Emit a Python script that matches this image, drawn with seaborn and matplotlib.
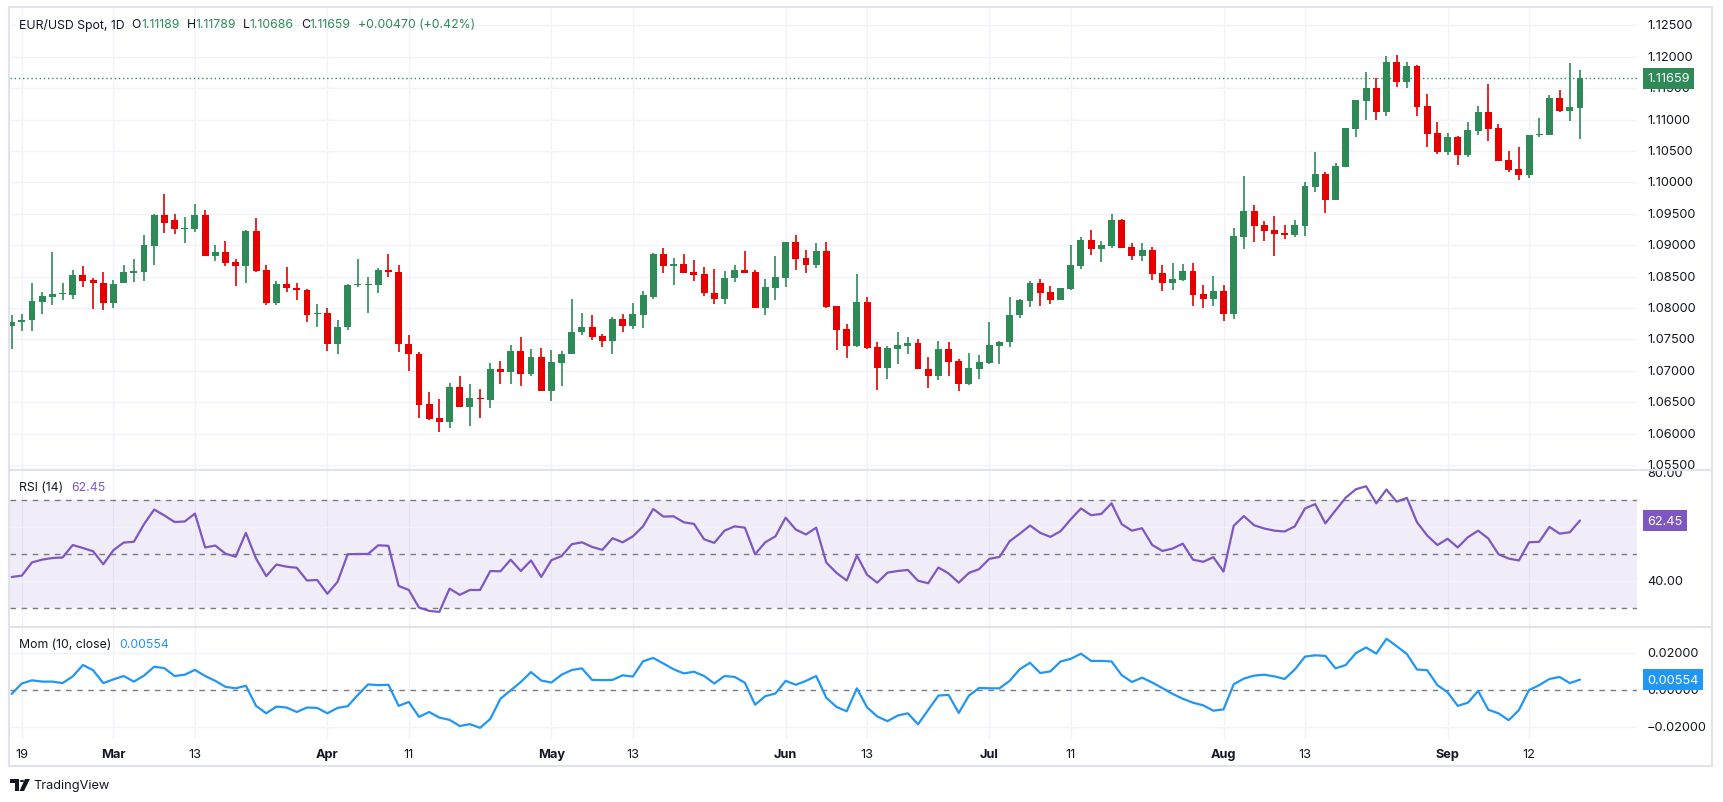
"""
EUR/USD daily chart with RSI(14) and Momentum(10) panes, TradingView look.
Run: python plot.py  ->  out.png
"""

import numpy as np
import pandas as pd
import matplotlib
matplotlib.use("Agg")
import matplotlib.pyplot as plt
import matplotlib.transforms as mtransforms
from matplotlib.patches import Rectangle, Circle, Polygon
from matplotlib.lines import Line2D
import seaborn as sns

# ── Data ──────────────────────────────────────────────
dates = pd.bdate_range("2024-02-16", "2024-09-19")

opens = [
    1.0772, 1.0777, 1.0780, 1.0810, 1.0818, 1.0822, 1.0821, 1.0852, 1.0845, 1.0840,
    1.0808, 1.0840, 1.0856, 1.0858, 1.0899, 1.0948, 1.0940, 1.0926, 1.0926, 1.0948,
    1.0883, 1.0889, 1.0873, 1.0866, 1.0922, 1.0860, 1.0808, 1.0838, 1.0832, 1.0829,
    1.0790, 1.0792, 1.0743, 1.0769, 1.0837, 1.0837, 1.0837, 1.0860, 1.0857, 1.0743,
    1.0727, 1.0647, 1.0625, 1.0619, 1.0674, 1.0643, 1.0656, 1.0654, 1.0703, 1.0698,
    1.0731, 1.0694, 1.0722, 1.0667, 1.0713, 1.0726, 1.0761, 1.0770, 1.0755, 1.0748,
    1.0782, 1.0772, 1.0789, 1.0818, 1.0886, 1.0867, 1.0870, 1.0857, 1.0854, 1.0824,
    1.0815, 1.0847, 1.0860, 1.0857, 1.0800, 1.0832, 1.0848, 1.0905, 1.0879, 1.0868,
    1.0891, 1.0803, 1.0766, 1.0740, 1.0809, 1.0738, 1.0705, 1.0735, 1.0740, 1.0744,
    1.0703, 1.0692, 1.0735, 1.0715, 1.0679, 1.0703, 1.0713, 1.0740, 1.0745, 1.0788,
    1.0811, 1.0840, 1.0825, 1.0813, 1.0830, 1.0867, 1.0908, 1.0894, 1.0899, 1.0940,
    1.0897, 1.0883, 1.0892, 1.0856, 1.0840, 1.0844, 1.0859, 1.0822, 1.0814, 1.0827,
    1.0790, 1.0913, 1.0954, 1.0932, 1.0924, 1.0919, 1.0916, 1.0930, 1.0993, 1.1013,
    1.0972, 1.1024, 1.1085, 1.1130, 1.1150, 1.1112, 1.1192, 1.1160, 1.1185, 1.1121,
    1.1078, 1.1048, 1.1072, 1.1043, 1.1082, 1.1112, 1.1086, 1.1036, 1.1021, 1.1012,
    1.1075, 1.1075, 1.1134, 1.1114, 1.11189,
]
highs = [
    1.0789, 1.0790, 1.0840, 1.0825, 1.0889, 1.0840, 1.0860, 1.0867, 1.0848, 1.0857,
    1.0845, 1.0868, 1.0878, 1.0916, 1.0950, 1.0981, 1.0950, 1.0945, 1.0966, 1.0956,
    1.0900, 1.0907, 1.0878, 1.0924, 1.0943, 1.0868, 1.0843, 1.0865, 1.0840, 1.0830,
    1.0806, 1.0800, 1.0781, 1.0838, 1.0878, 1.0849, 1.0864, 1.0886, 1.0868, 1.0757,
    1.0730, 1.0666, 1.0655, 1.0681, 1.0692, 1.0679, 1.0671, 1.0712, 1.0715, 1.0741,
    1.0754, 1.0735, 1.0736, 1.0733, 1.0731, 1.0814, 1.0792, 1.0789, 1.0758, 1.0786,
    1.0790, 1.0808, 1.0827, 1.0887, 1.0895, 1.0879, 1.0886, 1.0876, 1.0865, 1.0862,
    1.0859, 1.0868, 1.0891, 1.0860, 1.0846, 1.0883, 1.0905, 1.0916, 1.0892, 1.0903,
    1.0905, 1.0803, 1.0774, 1.0854, 1.0817, 1.0746, 1.0739, 1.0762, 1.0754, 1.0750,
    1.0722, 1.0747, 1.0746, 1.0719, 1.0728, 1.0725, 1.0778, 1.0747, 1.0817, 1.0814,
    1.0843, 1.0846, 1.0835, 1.0832, 1.0900, 1.0913, 1.0924, 1.0906, 1.0949, 1.0942,
    1.0903, 1.0903, 1.0897, 1.0868, 1.0871, 1.0870, 1.0871, 1.0836, 1.0851, 1.0836,
    1.0927, 1.1010, 1.0964, 1.0938, 1.0946, 1.0932, 1.0940, 1.1001, 1.1048, 1.1016,
    1.1031, 1.1086, 1.1131, 1.1176, 1.1166, 1.1201, 1.1203, 1.1192, 1.1187, 1.1141,
    1.1096, 1.1078, 1.1074, 1.1096, 1.1121, 1.1157, 1.1093, 1.1050, 1.1056, 1.1075,
    1.1102, 1.1139, 1.1147, 1.1190, 1.11789,
]
lows = [
    1.0734, 1.0764, 1.0764, 1.0791, 1.0804, 1.0813, 1.0815, 1.0834, 1.0799, 1.0797,
    1.0800, 1.0839, 1.0842, 1.0843, 1.0869, 1.0920, 1.0917, 1.0904, 1.0921, 1.0882,
    1.0875, 1.0867, 1.0835, 1.0839, 1.0858, 1.0804, 1.0804, 1.0826, 1.0813, 1.0777,
    1.0770, 1.0732, 1.0726, 1.0765, 1.0834, 1.0792, 1.0823, 1.0850, 1.0730, 1.0700,
    1.0624, 1.0621, 1.0603, 1.0608, 1.0643, 1.0612, 1.0625, 1.0640, 1.0679, 1.0679,
    1.0676, 1.0692, 1.0667, 1.0651, 1.0676, 1.0726, 1.0757, 1.0749, 1.0737, 1.0726,
    1.0762, 1.0767, 1.0768, 1.0815, 1.0856, 1.0837, 1.0856, 1.0843, 1.0819, 1.0807,
    1.0807, 1.0842, 1.0856, 1.0800, 1.0789, 1.0813, 1.0834, 1.0860, 1.0856, 1.0863,
    1.0800, 1.0733, 1.0720, 1.0737, 1.0735, 1.0670, 1.0687, 1.0711, 1.0727, 1.0702,
    1.0673, 1.0686, 1.0692, 1.0668, 1.0678, 1.0687, 1.0711, 1.0711, 1.0738, 1.0784,
    1.0801, 1.0803, 1.0806, 1.0813, 1.0829, 1.0862, 1.0884, 1.0873, 1.0895, 1.0895,
    1.0876, 1.0875, 1.0844, 1.0827, 1.0828, 1.0843, 1.0803, 1.0800, 1.0803, 1.0779,
    1.0782, 1.0894, 1.0905, 1.0907, 1.0883, 1.0910, 1.0913, 1.0915, 1.0985, 1.0951,
    1.0972, 1.1024, 1.1072, 1.1099, 1.1099, 1.1106, 1.1152, 1.1150, 1.1106, 1.1056,
    1.1045, 1.1043, 1.1028, 1.1040, 1.1075, 1.1066, 1.1034, 1.1016, 1.1004, 1.1007,
    1.1072, 1.1075, 1.1112, 1.1098, 1.10686,
]
closes = [
    1.0777, 1.0781, 1.0811, 1.0819, 1.0822, 1.0824, 1.0852, 1.0843, 1.0839, 1.0808,
    1.0838, 1.0857, 1.0859, 1.0900, 1.0948, 1.0936, 1.0926, 1.0927, 1.0948, 1.0883,
    1.0889, 1.0872, 1.0866, 1.0922, 1.0859, 1.0808, 1.0838, 1.0831, 1.0828, 1.0789,
    1.0792, 1.0743, 1.0770, 1.0837, 1.0838, 1.0838, 1.0860, 1.0858, 1.0743, 1.0726,
    1.0646, 1.0623, 1.0619, 1.0674, 1.0643, 1.0656, 1.0655, 1.0703, 1.0698, 1.0731,
    1.0694, 1.0722, 1.0667, 1.0714, 1.0727, 1.0762, 1.0770, 1.0754, 1.0748, 1.0782,
    1.0772, 1.0790, 1.0820, 1.0886, 1.0867, 1.0870, 1.0856, 1.0852, 1.0823, 1.0815,
    1.0848, 1.0860, 1.0856, 1.0800, 1.0833, 1.0849, 1.0905, 1.0878, 1.0868, 1.0891,
    1.0801, 1.0765, 1.0740, 1.0809, 1.0736, 1.0705, 1.0736, 1.0741, 1.0744, 1.0702,
    1.0692, 1.0735, 1.0714, 1.0679, 1.0704, 1.0714, 1.0741, 1.0746, 1.0789, 1.0813,
    1.0840, 1.0824, 1.0813, 1.0832, 1.0868, 1.0908, 1.0894, 1.0900, 1.0940, 1.0895,
    1.0883, 1.0892, 1.0854, 1.0840, 1.0846, 1.0859, 1.0820, 1.0814, 1.0827, 1.0790,
    1.0914, 1.0954, 1.0930, 1.0923, 1.0918, 1.0916, 1.0932, 1.0994, 1.1013, 1.0972,
    1.1026, 1.1086, 1.1131, 1.1150, 1.1112, 1.1192, 1.1160, 1.1185, 1.1120, 1.1077,
    1.1048, 1.1072, 1.1043, 1.1083, 1.1112, 1.1085, 1.1034, 1.1020, 1.1012, 1.1075,
    1.1077, 1.1134, 1.1114, 1.1120, 1.11659,
]

rsi = [
    41.6, 42.1, 47.0, 48.0, 48.6, 48.8, 53.4, 52.3, 51.1, 46.3,
    51.5, 54.3, 54.6, 61.1, 66.5, 64.3, 61.9, 62.1, 65.0, 52.5,
    53.2, 50.2, 49.1, 57.9, 48.4, 41.9, 46.2, 45.4, 45.0, 40.3,
    40.5, 35.4, 39.8, 50.0, 50.1, 50.1, 53.3, 53.1, 38.3, 36.8,
    30.3, 29.1, 28.7, 37.3, 35.0, 36.8, 36.8, 43.8, 43.7, 48.0,
    43.8, 47.7, 41.6, 47.8, 49.3, 53.7, 54.4, 52.7, 51.6, 55.9,
    54.4, 56.6, 60.3, 66.7, 63.9, 64.0, 61.8, 61.2, 55.5, 54.2,
    58.7, 60.3, 59.8, 50.0, 54.4, 56.6, 63.5, 59.1, 57.3, 59.8,
    46.9, 43.1, 40.3, 49.5, 42.4, 39.5, 43.2, 43.8, 44.2, 40.2,
    39.3, 45.1, 42.9, 39.5, 43.1, 44.5, 48.3, 49.0, 54.8, 57.6,
    60.6, 57.9, 56.4, 58.5, 62.9, 66.9, 64.4, 64.9, 68.8, 61.1,
    58.7, 59.6, 53.4, 51.2, 52.1, 53.9, 48.0, 47.2, 48.9, 43.6,
    60.5, 64.1, 60.7, 59.5, 58.7, 58.4, 60.3, 66.9, 68.5, 61.4,
    66.2, 70.9, 74.0, 75.1, 68.8, 73.9, 69.4, 70.8, 61.8, 56.9,
    53.4, 55.7, 52.5, 56.3, 58.7, 55.8, 50.0, 48.4, 47.7, 54.4,
    54.6, 60.1, 57.6, 58.1, 62.45,
]

mom = [
    -0.0021, 0.0035, 0.0052, 0.0045, 0.0045, 0.0037, 0.0073, 0.0134, 0.0106, 0.0037,
    0.0057, 0.0075, 0.0045, 0.0077, 0.0125, 0.0117, 0.0075, 0.0082, 0.0108, 0.0075,
    0.0049, 0.0017, 0.0009, 0.0023, -0.0085, -0.0125, -0.0089, -0.0094, -0.0118, -0.0094,
    -0.0096, -0.0125, -0.0096, -0.0087, -0.0026, 0.0030, 0.0026, 0.0028, -0.0085, -0.0064,
    -0.0144, -0.0118, -0.0148, -0.0160, -0.0193, -0.0183, -0.0203, -0.0155, -0.0047, -0.0002,
    0.0043, 0.0096, 0.0051, 0.0040, 0.0082, 0.0107, 0.0116, 0.0054, 0.0053, 0.0054,
    0.0079, 0.0072, 0.0154, 0.0172, 0.0142, 0.0111, 0.0089, 0.0098, 0.0075, 0.0035,
    0.0075, 0.0070, 0.0039, -0.0079, -0.0033, -0.0019, 0.0049, 0.0028, 0.0049, 0.0075,
    -0.0042, -0.0091, -0.0114, 0.0009, -0.0093, -0.0142, -0.0167, -0.0137, -0.0125, -0.0184,
    -0.0107, -0.0030, -0.0026, -0.0123, -0.0030, 0.0011, 0.0009, 0.0009, 0.0049, 0.0112,
    0.0146, 0.0091, 0.0100, 0.0153, 0.0167, 0.0195, 0.0156, 0.0156, 0.0153, 0.0080,
    0.0043, 0.0066, 0.0040, 0.0010, -0.0021, -0.0047, -0.0068, -0.0082, -0.0111, -0.0104,
    0.0031, 0.0061, 0.0077, 0.0082, 0.0073, 0.0059, 0.0110, 0.0179, 0.0186, 0.0183,
    0.0116, 0.0134, 0.0198, 0.0228, 0.0195, 0.0275, 0.0235, 0.0193, 0.0110, 0.0106,
    0.0026, -0.0012, -0.0085, -0.0068, -0.0005, -0.0106, -0.0125, -0.0162, -0.0108, 0.0000,
    0.0026, 0.0059, 0.0070, 0.0037, 0.00554,
]

tick_dates = ["2024-02-19", "2024-03-01", "2024-03-13", "2024-04-01", "2024-04-11",
              "2024-05-01", "2024-05-13", "2024-06-03", "2024-06-13", "2024-07-01",
              "2024-07-11", "2024-08-01", "2024-08-13", "2024-09-02", "2024-09-12"]
tick_labels = ["19", "Mar", "13", "Apr", "11", "May", "13", "Jun", "13", "Jul",
               "11", "Aug", "13", "Sep", "12"]

price_levels = [1.055, 1.060, 1.065, 1.070, 1.075, 1.080, 1.085, 1.090, 1.095,
                1.100, 1.105, 1.110, 1.115, 1.120, 1.125]
rsi_levels = [40, 60, 80]
mom_levels = [-0.02, 0.0, 0.02]

# ── Style ──────────────────────────────────────────────
GREEN = "#2e8b57"
RED = "#e60000"
TEXT = "#131722"
GRID = "#f0f3fa"
BORDER = "#e0e3eb"
DASH = "#787b86"
PURPLE = "#7e57c2"
BLUE = "#2196f3"

sns.set_style("white")
plt.rcParams["font.family"] = ["Inter", "DejaVu Sans"]

W, H = 1723, 803
fig = plt.figure(figsize=(W / 100, H / 100), dpi=100)
fig.patch.set_facecolor("white")

PANES = {"price": (9, 470), "rsi": (471, 627), "mom": (628, 740)}


def box(top, bottom, left=10, right=1637):
    return [left / W, 1 - bottom / H, (right - left) / W, (bottom - top) / H]


ax_p = fig.add_axes(box(*PANES["price"]))
ax_r = fig.add_axes(box(*PANES["rsi"]), sharex=ax_p)
ax_m = fig.add_axes(box(*PANES["mom"]), sharex=ax_p)

x = np.arange(len(dates))
o, h, l, c = map(np.array, (opens, highs, lows, closes))
tick_pos = [dates.get_loc(pd.Timestamp(d)) for d in tick_dates]

for ax in (ax_p, ax_r, ax_m):
    ax.set_facecolor("white")
    for s in ax.spines.values():
        s.set_visible(False)
    for t in tick_pos:
        ax.axvline(t, color=GRID, lw=1, zorder=0)

# ── Price pane ─────────────────────────────────────────
for v in price_levels:
    ax_p.axhline(v, color=GRID, lw=1, zorder=0)

colors = np.where(c >= o, GREEN, RED)
ax_p.vlines(x, l, h, colors=colors, linewidth=1.2, zorder=2)
body_lo = np.minimum(o, c)
body_h = np.maximum(np.abs(c - o), 0.00012)
ax_p.bar(x, body_h, bottom=body_lo, width=0.68, color=colors, linewidth=0, zorder=3)
ax_p.axhline(c[-1], color=GREEN, lw=1, ls=(0, (1, 2)), zorder=1)

ax_p.set_xlim(-0.16, 159.6)
ax_p.set_ylim(1.05435, 1.12776)

# ── RSI pane ───────────────────────────────────────────
ax_r.axhspan(30, 70, color=PURPLE, alpha=0.1, lw=0, zorder=0)
for v in (40, 60):
    ax_r.axhline(v, color=GRID, lw=1, zorder=0)
for v in (30, 50, 70):
    ax_r.axhline(v, color=DASH, lw=1, ls=(0, (4, 4)), zorder=1)
sns.lineplot(x=x, y=rsi, ax=ax_r, color=PURPLE, linewidth=1.6, zorder=3)
ax_r.set_ylim(23.5, 81.1)

# ── Momentum pane ──────────────────────────────────────
for v in (-0.02, 0.02):
    ax_m.axhline(v, color=GRID, lw=1, zorder=0)
ax_m.axhline(0, color=DASH, lw=1, ls=(0, (4, 4)), zorder=1)
sns.lineplot(x=x, y=mom, ax=ax_m, color=BLUE, linewidth=1.6, zorder=3)
ax_m.set_ylim(-0.02627, 0.03378)

for ax in (ax_p, ax_r, ax_m):
    ax.set_xlabel("")
    ax.set_ylabel("")
    ax.set_xticks([])
    ax.set_yticks([])

# ── Right scale labels and last-value badges ───────────
LAB = 9.2


def scale_labels(ax, pane, levels, fmt):
    # labels are clipped to their own pane, as on the original price scale
    top, bottom = PANES[pane]
    clip = mtransforms.TransformedBbox(
        mtransforms.Bbox.from_extents(1637 / W, 1 - bottom / H, 1712 / W, 1 - top / H),
        fig.transFigure)
    tr = mtransforms.blended_transform_factory(fig.transFigure, ax.transData)
    for v in levels:
        t = ax.text(1647 / W, v, fmt(v), transform=tr, va="center", ha="left",
                    fontsize=LAB, color=TEXT, zorder=5)
        t.set_clip_box(clip)
        t.set_clip_on(True)


def badge(ax, value, label, col):
    tr = mtransforms.blended_transform_factory(fig.transFigure, ax.transData)
    ax.text(1647 / W, value, label, transform=tr, va="center", ha="left",
            fontsize=LAB, color="white", clip_on=False, zorder=10,
            bbox=dict(boxstyle="square,pad=0.35", fc=col, ec=col, lw=0))


scale_labels(ax_p, "price", price_levels, lambda v: f"{v:.5f}")
scale_labels(ax_r, "rsi", rsi_levels, lambda v: f"{v:.2f}")
scale_labels(ax_m, "mom", mom_levels, lambda v: f"{v:.5f}".replace("-", "\u2212"))
badge(ax_p, c[-1], f"{c[-1]:.5f}", GREEN)
badge(ax_r, rsi[-1], f"{rsi[-1]:.2f}", PURPLE)
badge(ax_m, mom[-1], f"{mom[-1]:.5f}", BLUE)

# ── Time axis labels ───────────────────────────────────
tr_x = mtransforms.blended_transform_factory(ax_m.transData, fig.transFigure)
for pos, lab in zip(tick_pos, tick_labels):
    ax_m.text(pos, 1 - 755 / H, lab, transform=tr_x, ha="center", va="center",
              fontsize=LAB, color=TEXT, clip_on=False,
              fontweight="bold" if lab.isalpha() else "normal")

# ── Frame and pane separators ──────────────────────────
fig.patches.append(Rectangle((9 / W, 1 - 767 / H), (1712 - 9) / W, (767 - 8) / H,
                             transform=fig.transFigure, fill=False, ec=BORDER, lw=1.5))
for yy in (470.5, 627.5):
    fig.lines.append(Line2D([9 / W, 1712 / W], [1 - yy / H, 1 - yy / H],
                            transform=fig.transFigure, color=BORDER, lw=1.5))

# ── Legends (pane titles) ──────────────────────────────
renderer = fig.canvas.get_renderer()


def text_run(x0, y0, parts, size):
    xx = x0
    for s, col, gap in parts:
        xx += gap
        t = fig.text(xx / W, 1 - y0 / H, s, color=col, fontsize=size,
                     va="center", ha="left")
        xx += t.get_window_extent(renderer).width


text_run(19, 25, [("EUR/USD Spot, 1D", TEXT, 0), ("O", TEXT, 7), ("1.11189", GREEN, 0),
                  ("H", TEXT, 7), ("1.11789", GREEN, 0), ("L", TEXT, 7),
                  ("1.10686", GREEN, 0), ("C", TEXT, 7), ("1.11659", GREEN, 0),
                  ("+0.00470 (+0.42%)", GREEN, 7)], 8.8)
text_run(19, 488, [("RSI (14)", TEXT, 0), ("62.45", PURPLE, 8)], 8.8)
text_run(19, 645, [("Mom (10, close)", TEXT, 0), ("0.00554", BLUE, 8)], 8.8)


# ── TradingView logo ───────────────────────────────────
def fx(px, py):
    return (px / W, 1 - py / H)


fig.patches.append(Rectangle(fx(10, 784), 9 / W, 4 / H, transform=fig.transFigure,
                             fc=TEXT, ec="none"))
fig.patches.append(Rectangle(fx(15, 792), 4 / W, 12 / H, transform=fig.transFigure,
                             fc=TEXT, ec="none"))
fig.patches.append(Circle(fx(22, 782), 2.2 / W, transform=fig.transFigure,
                          fc=TEXT, ec="none"))
fig.patches.append(Polygon([fx(25, 780), fx(30, 780), fx(24, 792), fx(19.5, 792)],
                           closed=True, transform=fig.transFigure, fc=TEXT, ec="none"))
fig.text(33 / W, 1 - 786.5 / H, "TradingView", fontsize=9.2, color=TEXT,
         va="center", ha="left")

fig.savefig("out.png", dpi=100, facecolor="white")
plt.close(fig)
